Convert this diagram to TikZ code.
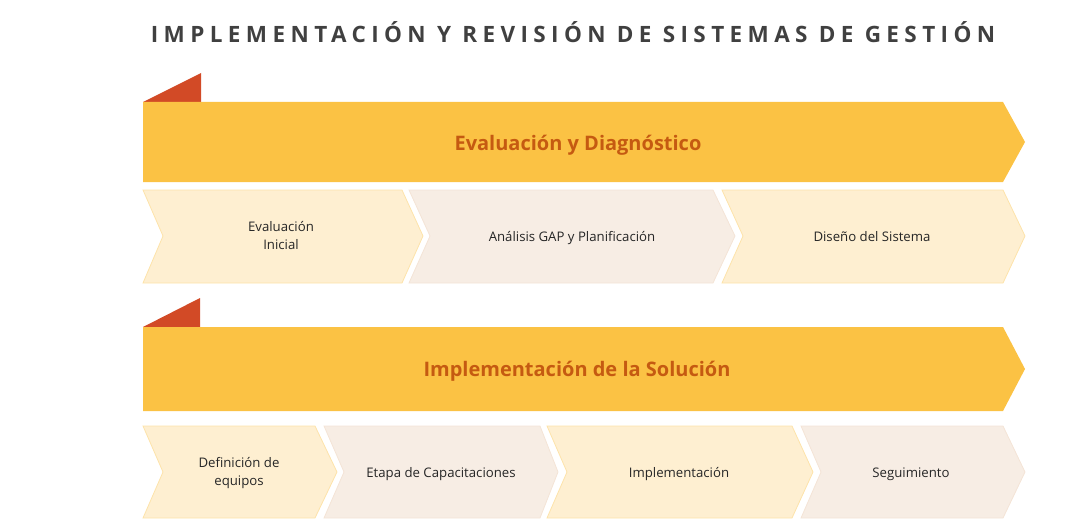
\documentclass[tikz,border=0pt]{standalone}
\usepackage{fontspec}
\setmainfont{Open Sans}
\definecolor{banner}{HTML}{FBC244}
\definecolor{flag}{HTML}{D24A26}
\definecolor{bantext}{HTML}{C55A11}
\definecolor{lightY}{HTML}{FEEFD1}
\definecolor{lightYb}{HTML}{FDE3AA}
\definecolor{beige}{HTML}{F7EDE4}
\definecolor{beigeb}{HTML}{F4E4D6}
\definecolor{titlec}{HTML}{404040}
\definecolor{labc}{HTML}{262626}
\tikzset{
  chevY/.style={fill=lightY,draw=lightYb,line width=0.8pt},
  chevB/.style={fill=beige,draw=beigeb,line width=0.8pt},
  lab/.style={text=labc,font=\fontsize{13.2}{18}\selectfont,align=center,inner sep=0pt},
  bantitle/.style={text=bantext,font=\bfseries\fontsize{20}{22}\selectfont,inner sep=0pt,anchor=base},
}
\begin{document}
\begin{tikzpicture}[x=1pt,y=-1pt]
\useasboundingbox (0,0) rectangle (1092,532);
% title
\node[anchor=base,inner sep=0pt,text=titlec,font=\bfseries\fontsize{22.5}{26}\selectfont\addfontfeature{LetterSpace=24}] (title) at (573,43) {IMPLEMENTACIÓN Y REVISIÓN DE SISTEMAS DE GESTIÓN};
% banner 1
\fill[flag] (143,102) -- (201,73) -- (201,102) -- cycle;
\fill[banner] (143,102) -- (1003,102) -- (1025,142) -- (1003,182) -- (143,182) -- cycle;
\node[bantitle] (b1) at (578,150) {Evaluación y Diagnóstico};
% row 1
\path[chevY] (143,190) -- (402,190) -- (423,236) -- (402,283) -- (143,283) -- (163,236) -- cycle;
\path[chevB] (409,190) -- (713,190) -- (735,236) -- (713,283) -- (409,283) -- (430,236) -- cycle;
\path[chevY] (722,190) -- (1003,190) -- (1025,236) -- (1003,283) -- (722,283) -- (743,236) -- cycle;
\node[lab] (s11) at (281,236) {Evaluación\\Inicial};
\node[lab,anchor=base] (s12) at (572,241) {Análisis GAP y Planificación};
\node[lab,anchor=base] (s13) at (872,241) {Diseño del Sistema};
% banner 2
\fill[flag] (143,327) -- (200,298) -- (200,327) -- cycle;
\fill[banner] (143,327) -- (1003,327) -- (1025,369) -- (1003,411) -- (143,411) -- cycle;
\node[bantitle] (b2) at (577,376) {Implementación de la Solución};
% row 2
\path[chevY] (143,426) -- (315,426) -- (337,472) -- (315,518) -- (143,518) -- (163,472) -- cycle;
\path[chevB] (324,426) -- (540,426) -- (558,472) -- (540,518) -- (324,518) -- (344,472) -- cycle;
\path[chevY] (547,426) -- (792,426) -- (813,472) -- (792,518) -- (547,518) -- (567,472) -- cycle;
\path[chevB] (801,426) -- (1003,426) -- (1025,472) -- (1003,518) -- (801,518) -- (821,472) -- cycle;
\node[lab] (s21) at (239,473.5) {Definición de\\equipos};
\node[lab,anchor=base] (s22) at (441,477) {Etapa de Capacitaciones};
\node[lab,anchor=base] (s23) at (679,477) {Implementación};
\node[lab,anchor=base] (s24) at (911,477) {Seguimiento};
\end{tikzpicture}
\end{document}
